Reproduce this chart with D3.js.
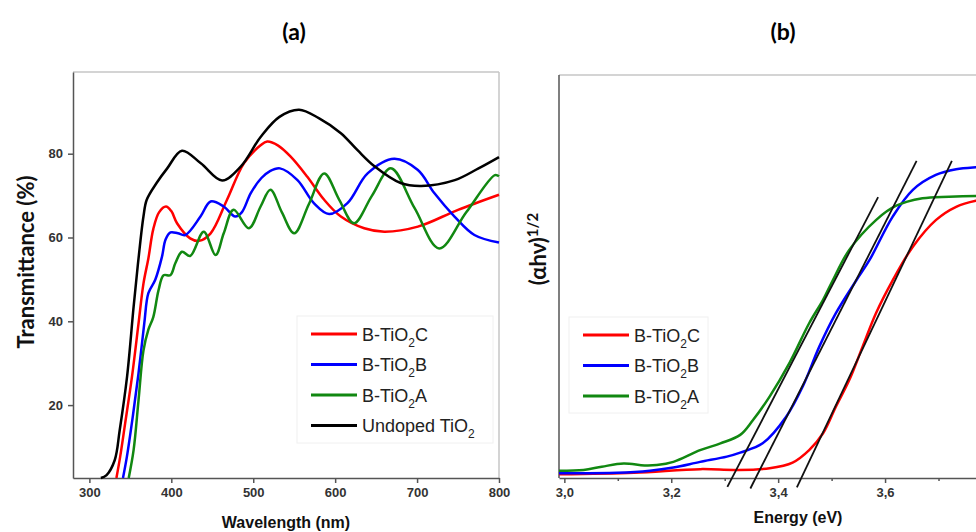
<!DOCTYPE html>
<html>
  <head>
    <meta charset="utf-8">
    <title>B-TiO2 transmittance and Tauc plot</title>
    <script src="https://d3js.org/d3.v7.min.js"></script>
  </head>
  <style>
    body { margin: 0; background: #fff; }
    .tick text { font-family: "Liberation Sans", Arial, sans-serif; font-weight: bold; font-size: 13px; fill: #333; }
    .tick line, .domain { stroke: #555; stroke-width: 1.5px; }
    .frame { stroke: #c6c6c6; stroke-width: 1.5px; }
    .curve { fill: none; stroke-width: 2.5px; }
    .legend-box { fill: #fff; stroke: #f0f0f0; }
    .legend text { font-family: "Liberation Sans", Arial, sans-serif; font-size: 18px; fill: #222; }
  </style>
  <body>

    <script>
      const width = 976;
      const height = 532;

      // panel (a): transmittance, [wavelength nm, T %]
      const wavelengthTicks = [300, 400, 500, 600, 700, 800];
      const transmittanceTicks = [20, 40, 60, 80];

      const transC = [[333,2.6],[337.6,7.7],[343.7,15.7],[352,26.8],[360,39.5],[366,49],[372,55],[378,62],[385,66],
        [393.5,67.4],[400,66.3],[407,63.4],[423,59.8],[434,59.2],[448,61],[468,69],[488.6,77.7],[509,82],[517,82.9],
        [530,82],[545.7,79.3],[566,74.5],[586.6,69],[607,65],[635.5,62.2],[660,61.4],[701,62.6],[750,66.6],[800,70.2]];
      const transB = [[341,2.6],[345.8,7.7],[353,17.3],[360,27.6],[367,39.5],[372,46.7],[380.4,49.9],[388.6,55.4],
        [393,59.5],[399,61.2],[408,61],[417,60.6],[435.6,65],[448,68.6],[464,67.4],[478,65],[486,66],[497,70.6],
        [510,74.2],[520,75.8],[532.6,76.5],[554,73.7],[574,68.2],[592.6,65.6],[615,68.2],[639.6,75.3],[672,78.8],
        [701,76.1],[721,70.6],[745.7,65],[770,60.6],[800,58.8]];
      const transA = [[348,2.6],[354,9.3],[360,21.2],[366,33],[372,38],[378,41],[384.5,47.5],[390.6,51],[398.8,51],
        [405,53.9],[413,56.6],[423,55.6],[439.6,61.4],[454,55.8],[464,61],[476,66.6],[494.7,62.2],[509,67.4],
        [521,71.4],[535,66],[550,61],[568,68],[586.6,75.3],[605,69],[623,63.4],[645,70],[668,76.5],[697,67],
        [727,57.4],[760,66],[795,74.9],[800,74.6]];
      const transUndoped = [[314,2.6],[321,3.3],[331,6.9],[337,14],[346,26.8],[354,43.5],[360,55],[366,65],[370,69],
        [382,73],[395,76.5],[413,80.7],[436,77.7],[462,73.6],[485,77],[509,84],[532,88.8],[556,90.5],[580,88.5],
        [607,84.9],[627,80.9],[648,77],[680,73],[705,72.3],[746,73.7],[775,76.5],[800,79.2]];

      // panel (b): Tauc plot, [energy eV, (ahv)^1/2 arb. units]
      const energyTicks = [3.0, 3.2, 3.4, 3.6];
      const energyMinorTicks = [3.1, 3.3, 3.5, 3.7];

      const taucC = [[2.99,0.9],[3.13,1.3],[3.254,2.2],[3.32,2.0],[3.384,2.4],[3.427,3.8],[3.458,6.9],[3.484,11.1],
        [3.508,17.7],[3.533,24.3],[3.558,32.6],[3.583,40.9],[3.614,49],[3.652,57.4],[3.695,64],[3.733,67.3],
        [3.77,68.8],[3.83,69.8]];
      const taucB = [[2.99,1.2],[3.098,1.3],[3.16,1.8],[3.204,2.6],[3.254,4.0],[3.304,5.3],[3.329,6.3],[3.371,8.6],
        [3.415,15.2],[3.446,22.7],[3.477,32.6],[3.508,40.9],[3.546,49],[3.571,54.1],[3.614,64.8],[3.652,71.5],
        [3.695,75.2],[3.733,76.6],[3.77,77.1],[3.83,77.4]];
      const taucA = [[2.99,1.8],[3.036,2.0],[3.07,2.8],[3.111,3.6],[3.15,3.1],[3.173,3.2],[3.204,4.0],[3.254,6.9],
        [3.292,8.6],[3.329,10.7],[3.353,14.4],[3.384,20.2],[3.421,28.5],[3.458,38.4],[3.484,44.2],[3.502,49],
        [3.533,56.6],[3.583,64],[3.62,67.5],[3.67,69.4],[3.72,69.8],[3.77,70],[3.83,70]];

      // linear fits (band gap extrapolation)
      const fitA = [[3.305,-2.2],[3.587,69.7]];
      const fitB = [[3.348,-2.6],[3.659,78.7]];
      const fitC = [[3.435,-2.3],[3.725,78.7]];

      const legendA = [["B-TiO","2","C"],["B-TiO","2","B"],["B-TiO","2","A"],["Undoped TiO","2",""]];
      const legendB = [["B-TiO","2","C"],["B-TiO","2","B"],["B-TiO","2","A"]];
      const colors = ["#ff0000", "#0000ff", "#118811", "#000000"];

      const svgContainer = d3.select("body")
        .append("svg")
          .attr("width", width)
          .attr("height", height);

      const boxA = {left: 73, right: 499, top: 72, bottom: 478};
      const boxB = {left: 559, right: 1008, top: 75, bottom: 478};

      const xScaleA = d3.scaleLinear().domain([280, 800]).range([boxA.left, boxA.right]);
      const yScaleA = d3.scaleLinear().domain([2.6, 99.5]).range([boxA.bottom, boxA.top]);
      const xScaleB = d3.scaleLinear().domain([2.99, 3.83]).range([boxB.left, boxB.right]);
      const yScaleB = d3.scaleLinear().domain([0, 100]).range([boxB.bottom, boxB.top]);

      function renderFrame(box) {
        svgContainer.append("line").classed("frame", true)
          .attr("x1", box.left).attr("x2", box.right).attr("y1", box.top).attr("y2", box.top);
        svgContainer.append("line").classed("frame", true)
          .attr("x1", box.right).attr("x2", box.right).attr("y1", box.top).attr("y2", box.bottom);
      }

      renderFrame(boxA);
      renderFrame(boxB);

      // axes of panel (a)
      svgContainer.append("g")
          .attr("transform", "translate(0," + boxA.bottom + ")")
          .call(d3.axisBottom(xScaleA).tickValues(wavelengthTicks).tickSize(5).tickSizeOuter(0).tickPadding(5));

      svgContainer.append("g")
          .attr("transform", "translate(" + boxA.left + ",0)")
          .call(d3.axisLeft(yScaleA).tickValues(transmittanceTicks).tickSize(5).tickSizeOuter(0).tickPadding(5));

      // axes of panel (b)
      const commaFormat = function(d) { return d3.format(".1f")(d).replace(".", ","); };
      svgContainer.append("g")
          .attr("transform", "translate(0," + boxB.bottom + ")")
          .call(d3.axisBottom(xScaleB).tickValues(energyTicks).tickFormat(commaFormat).tickSize(5).tickSizeOuter(0).tickPadding(5));
      svgContainer.append("g")
          .attr("transform", "translate(0," + boxB.bottom + ")")
          .call(d3.axisBottom(xScaleB).tickValues(energyMinorTicks).tickFormat("").tickSize(3).tickSizeOuter(0))
          .select(".domain").remove();
      svgContainer.append("line")
          .attr("stroke", "#555").attr("stroke-width", 1.5)
          .attr("x1", boxB.left).attr("x2", boxB.left).attr("y1", boxB.top).attr("y2", boxB.bottom);

      // curves
      function renderCurves(seriesList, xs, ys) {
        const line = d3.line()
          .x(function(d) { return xs(d[0]); })
          .y(function(d) { return ys(d[1]); })
          .curve(d3.curveCatmullRom.alpha(0.5));
        svgContainer.append("g")
          .selectAll("path")
          .data(seriesList)
          .enter()
          .append("path")
            .classed("curve", true)
            .attr("stroke", function(d, i) { return colors[i]; })
            .attr("d", line);
      }

      renderCurves([transC, transB, transA, transUndoped], xScaleA, yScaleA);
      renderCurves([taucC, taucB, taucA], xScaleB, yScaleB);

      const fitLine = d3.line()
        .x(function(d) { return xScaleB(d[0]); })
        .y(function(d) { return yScaleB(d[1]); });
      svgContainer.append("g")
        .selectAll("path")
        .data([fitA, fitB, fitC])
        .enter()
        .append("path")
          .attr("fill", "none")
          .attr("stroke", "#111")
          .attr("stroke-width", 1.8)
          .attr("d", fitLine);

      // legends
      function renderLegend(labels, x, y, w, h) {
        const g = svgContainer.append("g").classed("legend", true);
        g.append("rect").classed("legend-box", true)
          .attr("x", x).attr("y", y).attr("width", w).attr("height", h);
        const rows = g.selectAll("g.row")
          .data(labels)
          .enter()
          .append("g")
            .attr("transform", function(d, i) { return "translate(" + (x + 14) + "," + (y + 18 + i * 30.5) + ")"; });
        rows.append("line")
          .attr("x1", 0).attr("x2", 46).attr("y1", 0).attr("y2", 0)
          .attr("stroke", function(d, i) { return colors[i]; })
          .attr("stroke-width", 3);
        const txt = rows.append("text").attr("x", 51).attr("y", 6.5);
        txt.append("tspan").text(function(d) { return d[0]; });
        txt.append("tspan").attr("dy", 6).attr("font-size", "12px").text(function(d) { return d[1]; });
        txt.append("tspan").attr("dy", -6).text(function(d) { return d[2]; });
      }

      renderLegend(legendA, 297, 316, 196, 127);
      renderLegend(legendB, 569, 317, 139, 96);

      // titles and axis labels
      const titleFont = "Lato, 'Open Sans', sans-serif";
      const axisFont = "'Liberation Sans', Arial, sans-serif";

      svgContainer.append("text").attr("x", 294).attr("y", 40).attr("text-anchor", "middle")
        .attr("font-family", titleFont).attr("font-weight", "bold").attr("font-size", 23).text("(a)");
      svgContainer.append("text").attr("x", 783).attr("y", 40).attr("text-anchor", "middle")
        .attr("font-family", titleFont).attr("font-weight", "bold").attr("font-size", 23).text("(b)");

      svgContainer.append("text").attr("x", 286).attr("y", 528).attr("text-anchor", "middle")
        .attr("font-family", axisFont).attr("font-weight", "bold").attr("font-size", 16).attr("fill", "#111")
        .text("Wavelength (nm)");
      svgContainer.append("text").attr("x", 798).attr("y", 523).attr("text-anchor", "middle")
        .attr("font-family", axisFont).attr("font-weight", "bold").attr("font-size", 16).attr("fill", "#111")
        .text("Energy (eV)");

      svgContainer.append("text")
        .attr("transform", "translate(34,262) rotate(-90)")
        .attr("text-anchor", "middle")
        .attr("font-family", titleFont).attr("font-weight", "bold").attr("font-size", 22).attr("fill", "#111")
        .text("Transmittance (%)");

      const tauc = svgContainer.append("text")
        .attr("transform", "translate(546,249) rotate(-90)")
        .attr("text-anchor", "middle")
        .attr("font-family", titleFont).attr("font-weight", "bold").attr("font-size", 22).attr("fill", "#111");
      tauc.append("tspan").text("(αhν)");
      tauc.append("tspan").attr("dy", -8).attr("font-size", 15).text("1/2");
    </script>
  </body>
</html>
